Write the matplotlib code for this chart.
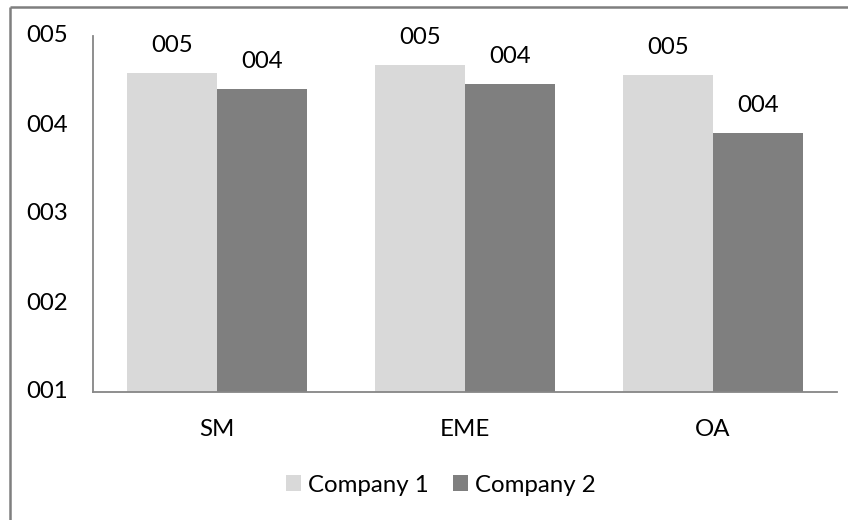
import matplotlib
matplotlib.use("Agg")
import matplotlib.pyplot as plt
from matplotlib.lines import Line2D
import numpy as np

categories = ["SM", "EME", "OA"]
series_names = ["Company 1", "Company 2"]
company1 = [4.58, 4.67, 4.56]
company2 = [4.40, 4.46, 3.91]
y_ticks = [1, 2, 3, 4, 5]
y_tick_labels = ["001", "002", "003", "004", "005"]

colors = ["#d9d9d9", "#7f7f7f"]
plt.rcParams['font.family'] = ['Lato', 'DejaVu Sans']
FS = 17.3

W, H = 848, 520
fig = plt.figure(figsize=(W / 100, H / 100), dpi=100)
ax = fig.add_axes([93 / W, 1 - 392 / H, (837 - 93) / W, (392 - 36) / H])

x = np.arange(len(categories))
bw = 0.363
for i, (vals, name) in enumerate(zip([company1, company2], series_names)):
    off = (i - 0.5) * bw
    ax.bar(x + off, [v - 1 for v in vals], bw, bottom=1, color=colors[i],
           label=name, linewidth=0)
    for xi, v in zip(x + off, vals):
        ax.annotate(f"{int(round(v)):03d}", (xi, v), xytext=(0, 19.8),
                    textcoords="offset points", ha="center", va="center",
                    fontsize=FS, color="#000000")

ax.set_xlim(-0.5, len(categories) - 0.5)
ax.set_ylim(1, 5)
ax.set_yticks(y_ticks)
ax.set_yticklabels(y_tick_labels)
ax.set_xticks(x)
ax.set_xticklabels(categories)
ax.tick_params(axis="y", length=0, pad=18.0, labelsize=FS)
ax.tick_params(axis="x", length=0, pad=19.5, labelsize=FS)
for t in ax.get_yticklabels():
    t.set_verticalalignment("center")
for s in ["top", "right"]:
    ax.spines[s].set_visible(False)
for s in ["left", "bottom"]:
    ax.spines[s].set_color("#868686")
    ax.spines[s].set_linewidth(1.3)

fig.legend(loc="center", bbox_to_anchor=(441 / W, 1 - 485 / H), ncol=2,
           frameon=False, fontsize=FS, handlelength=0.62, handleheight=0.62,
           handletextpad=0.3, columnspacing=1.0)

top = 1 - 7 / H
left = 10 / W
fig.add_artist(Line2D([left, 1.0], [top, top], transform=fig.transFigure,
                      color="#7f7f7f", linewidth=1.8, solid_capstyle="butt"))
fig.add_artist(Line2D([left, left], [0.0, top], transform=fig.transFigure,
                      color="#7f7f7f", linewidth=1.8, solid_capstyle="butt"))

fig.savefig("out.png", dpi=100)
